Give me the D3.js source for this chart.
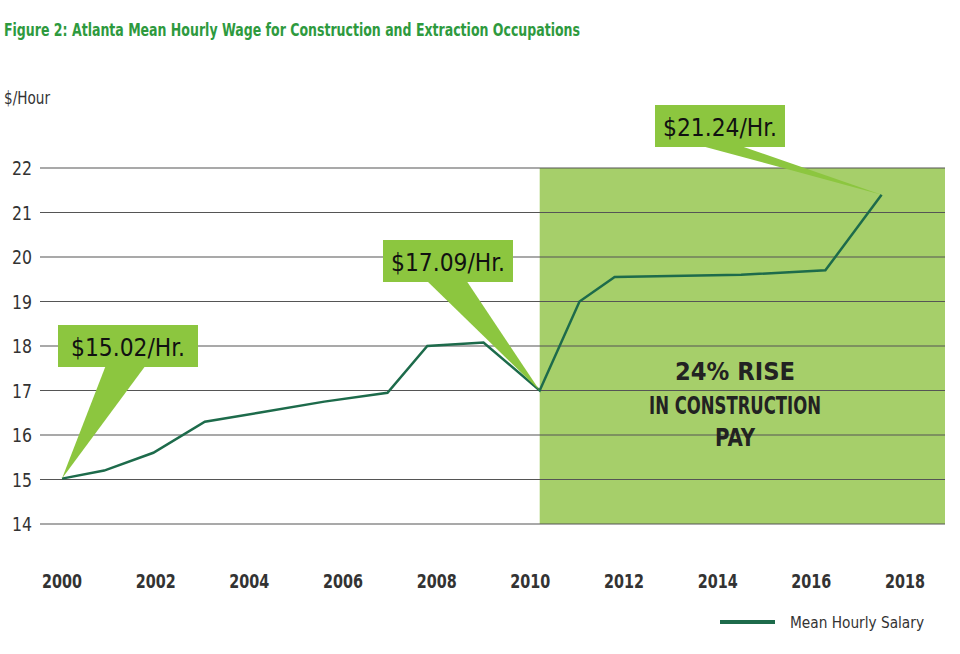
<!DOCTYPE html>
<html><head><meta charset="utf-8">
<script src="https://cdn.jsdelivr.net/npm/d3@7"></script>
<style>body{margin:0;background:#fff}text{font-family:"Liberation Sans Narrow","DejaVu Sans Condensed",sans-serif}</style>
</head><body><svg id="c" width="960" height="654"></svg>
<script>
const years=[2000,2000.9,2001.95,2003.05,2004.2,2005.6,2006.95,2007.8,2009.0,2010.2,2011.05,2011.8,2014.5,2016.3,2017.5];
const wages=[15.02,15.2,15.6,16.3,16.5,16.75,16.95,18.0,18.08,17.0,19.0,19.55,19.6,19.7,21.4];
const yTicks=[14,15,16,17,18,19,20,21,22];
const xTicks=[2000,2002,2004,2006,2008,2010,2012,2014,2016,2018];
const callouts=[{t:"$15.02/Hr.",i:0,bx:58,by:325,w:140},{t:"$17.09/Hr.",i:9,bx:383,by:240,w:130},{t:"$21.24/Hr.",i:14,bx:655,by:105,w:130}];
const svg=d3.select("#c");
const x=d3.scaleLinear().domain([2000,2018]).range([62,905]);
const y=d3.scaleLinear().domain([14,22]).range([524,168]);
svg.append("rect").attr("x",x(2010.2)).attr("y",y(22)).attr("width",945-x(2010.2)).attr("height",y(14)-y(22)).attr("fill","#a6cf6a");
svg.selectAll(".g").data(yTicks).join("line").attr("x1",40).attr("x2",945).attr("y1",d=>y(d)).attr("y2",d=>y(d)).attr("stroke","#555").attr("stroke-width",1.2);
svg.selectAll(".yl").data(yTicks).join("text").attr("x",12).attr("y",d=>y(d)+7).attr("font-size",19).attr("fill","#333").attr("textLength",20).attr("lengthAdjust","spacingAndGlyphs").text(d=>d);
svg.selectAll(".xl").data(xTicks).join("text").attr("x",d=>x(d)-20).attr("y",588).attr("font-size",19).attr("font-weight","bold").attr("fill","#333").attr("textLength",40).attr("lengthAdjust","spacingAndGlyphs").text(d=>d);
svg.append("text").attr("x",4).attr("y",36).attr("font-size",17).attr("fill","#2e9a3e").attr("font-weight","bold").attr("textLength",576).attr("lengthAdjust","spacingAndGlyphs").text("Figure 2: Atlanta Mean Hourly Wage for Construction and Extraction Occupations");
svg.append("text").attr("x",4).attr("y",104).attr("font-size",17).attr("fill","#333").attr("textLength",46).attr("lengthAdjust","spacingAndGlyphs").text("$/Hour");
svg.append("path").datum(years.map((d,i)=>[d,wages[i]])).attr("d",d3.line().x(d=>x(d[0])).y(d=>y(d[1]))).attr("fill","none").attr("stroke","#1d6b4b").attr("stroke-width",2.5);
[["24% RISE",380,120],["IN CONSTRUCTION",414,172],["PAY",446,40]].forEach(([s,yy,w])=>svg.append("text").attr("x",735-w/2).attr("y",yy).attr("font-size",25).attr("font-weight","bold").attr("fill","#222").attr("textLength",w).attr("lengthAdjust","spacingAndGlyphs").text(s));
callouts.forEach(c=>{
 const px=x(years[c.i]),py=y(wages[c.i]);
 const cx=c.bx+c.w/2;
 svg.append("path").attr("d",`M${cx-22},${c.by+40}L${px},${py}L${cx+18},${c.by+40}Z`).attr("fill","#8cc63f");
 svg.append("rect").attr("x",c.bx).attr("y",c.by).attr("width",c.w).attr("height",42).attr("fill","#8cc63f");
 svg.append("text").attr("x",cx-57).attr("y",c.by+31).attr("font-size",25).attr("fill","#111").attr("textLength",114).attr("lengthAdjust","spacingAndGlyphs").text(c.t);
});
svg.append("line").attr("x1",720).attr("x2",775).attr("y1",622).attr("y2",622).attr("stroke","#1d6b4b").attr("stroke-width",4);
svg.append("text").attr("x",790).attr("y",628).attr("font-size",16).attr("fill","#333").attr("textLength",134).attr("lengthAdjust","spacingAndGlyphs").text("Mean Hourly Salary");
</script></body></html>
